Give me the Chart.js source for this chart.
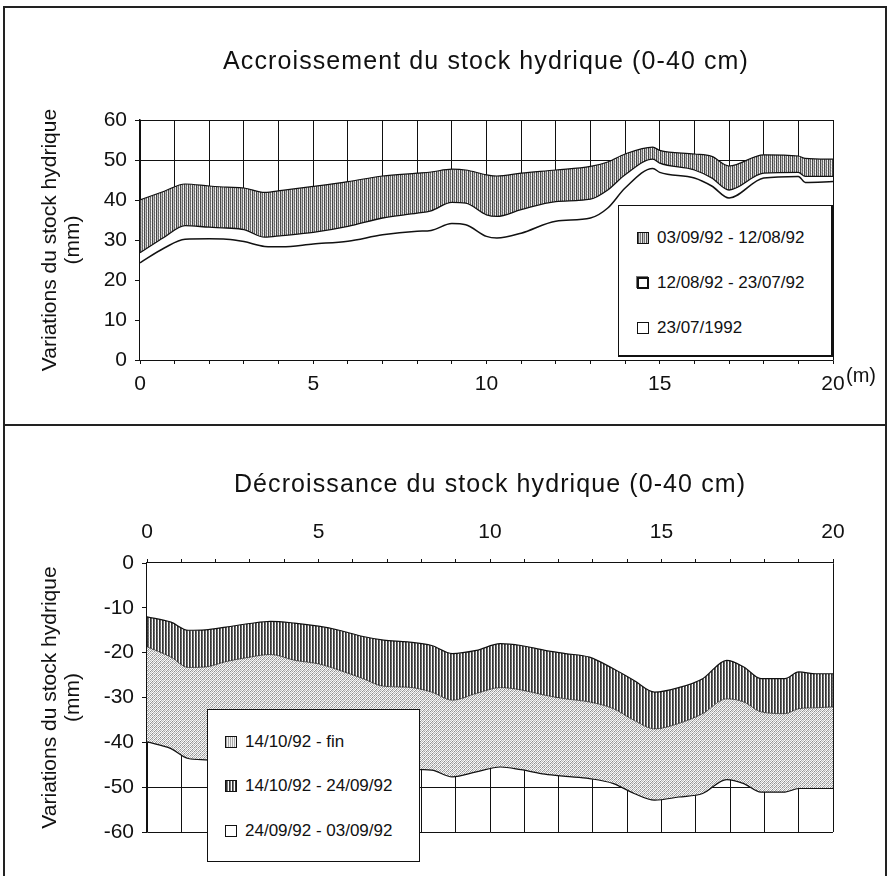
<!DOCTYPE html>
<html>
<head>
<meta charset="utf-8">
<script src="https://cdn.jsdelivr.net/npm/chart.js@4.4.0/dist/chart.umd.min.js"></script>
<style>
  html, body { margin: 0; padding: 0; background: #fff; }
  #page { position: relative; width: 888px; height: 876px; background: #fff; overflow: hidden;
          font-family: "Liberation Sans", Arial, sans-serif; color: #111; }
  .frame { position: absolute; background: #222; }
  .title { position: absolute; font-size: 25px; letter-spacing: 1.1px; white-space: nowrap;
           transform: translate(-50%, -50%); }
  .legend { position: absolute; background: #fff; border: 1px solid #111; box-sizing: border-box; }
  .item { position: absolute; font-size: 17px; white-space: nowrap; line-height: 20px; }
  .sw { display: inline-block; width: 12px; height: 12px; border: 1px solid #111; box-sizing: border-box;
        vertical-align: -1px; margin-right: 8px; background: #fff; }
  .unit { position: absolute; font-size: 20px; }
  canvas { position: absolute; left: 0; }
</style>
</head>
<body>
<div id="page">
  <canvas id="c1" width="888" height="425" style="top:0"></canvas>
  <canvas id="c2" width="888" height="451" style="top:425px"></canvas>

  <div class="frame" style="left:3px;top:6px;width:883px;height:2px"></div>
  <div class="frame" style="left:3px;top:6px;width:1.5px;height:870px"></div>
  <div class="frame" style="left:885px;top:6px;width:1.5px;height:870px"></div>
  <div class="frame" style="left:3px;top:424px;width:883px;height:2px"></div>

  <div class="title" style="left:486px;top:60px">Accroissement du stock hydrique (0-40 cm)</div>
  <div class="title" style="left:490px;top:483px">Décroissance du stock hydrique (0-40 cm)</div>
  <div class="unit" style="left:846px;top:364px">(m)</div>

  <div class="legend" style="left:618px;top:205px;width:215px;height:152px;border-right-width:2px;border-bottom-width:2px">
    <div class="item" style="left:18px;top:22px"><span class="sw" style="background:repeating-linear-gradient(90deg,#505050 0 1px,#c8c8c8 1px 2px,#7a7a7a 2px 3px,#eee 3px 4px)"></span>03/09/92 - 12/08/92</div>
    <div class="item" style="left:18px;top:67px"><span class="sw" style="border-width:2px;box-shadow:-1px -1px 0 #777"></span>12/08/92 - 23/07/92</div>
    <div class="item" style="left:18px;top:112px"><span class="sw"></span>23/07/1992</div>
  </div>

  <div class="legend" style="left:207px;top:709px;width:213px;height:153px">
    <div class="item" style="left:17px;top:22px"><span class="sw" style="background:repeating-linear-gradient(90deg,#aaa 0 1px,#f2f2f2 1px 2px)"></span>14/10/92 - fin</div>
    <div class="item" style="left:17px;top:66px"><span class="sw" style="background:repeating-linear-gradient(90deg,#333 0 1px,#777 1px 2px,#fff 2px 3px)"></span>14/10/92 - 24/09/92</div>
    <div class="item" style="left:17px;top:111px"><span class="sw"></span>24/09/92 - 03/09/92</div>
  </div>
</div>

<script>
// ---------- Top chart: Accroissement (levels, mm) ----------
const distTop = [0,0.7,1.3,2,2.5,3,3.6,4.1,5,6,7,8,8.4,9,9.4,10,10.3,11,12,13,13.5,14,14.8,15,16,16.5,17,18,19,19.2,20];
// 23/07/1992
const level_23_07 = [24.3,28,30.2,30.3,30.2,29.6,28.4,28.3,29,29.7,31.3,32.2,32.4,34.1,33.8,30.9,30.5,31.7,34.7,35.5,38,43,47.9,46.9,45.5,43.5,40.5,45.5,45.9,44.4,44.6];
// + 12/08/92 - 23/07/92
const level_12_08 = [26.8,30.7,33.6,33.2,33,32.6,30.7,31.1,31.9,33.4,35.5,36.7,37.3,39.4,39.2,36.3,35.9,37.6,39.6,40.2,42.5,46.3,50.2,49.2,47.5,45.5,42.5,46.7,46.9,45.9,45.9];
// + 03/09/92 - 12/08/92
const level_03_09 = [40,42.2,44,43.5,43.2,43,41.9,42.4,43.4,44.6,46,46.7,47,47.7,47.5,46.3,46,46.7,47.5,48.4,49.5,51.5,53.2,52.4,51.5,50.9,48.5,51.3,51,50.4,50.2];
const yTicksTop = [0,10,20,30,40,50,60];

// ---------- Bottom chart: Décroissance ----------
const distBot = [0,0.7,1.2,1.7,2.3,3,3.6,4.3,5,5.6,6.3,6.9,7.6,8.3,8.9,9.6,10.3,10.9,11.6,12.2,12.9,13.6,14.2,14.8,15.5,16.2,16.9,17.4,17.9,18.6,19,19.5,20];
// 24/09/92 - 03/09/92
const level_24_09 = [-12,-13.2,-15,-14.9,-14.3,-13.5,-13,-13.4,-14.1,-15,-16.4,-17.2,-17.6,-18.4,-20.2,-19.5,-18,-18.4,-19.5,-20.2,-21,-23.6,-26.2,-28.8,-27.8,-25.8,-21.7,-23.2,-25.8,-25.8,-24.3,-24.7,-24.7];
// + 14/10/92 - 24/09/92
const level_14_10 = [-18.7,-21,-23.3,-23.2,-22,-21,-20.4,-21.7,-22.5,-23.9,-25.8,-27.5,-27.7,-28.8,-30.6,-29.1,-27.8,-28.3,-29.5,-30.3,-31,-32.5,-35.1,-37,-35.8,-33.6,-30.3,-31,-33.2,-33.6,-32.5,-32.3,-32.1];
// + 14/10/92 - fin
const level_fin = [-39.9,-41.4,-43.6,-43.9,-44.1,-44.4,-44.7,-45,-45.3,-45.5,-45.7,-45.9,-46,-46.2,-47.7,-46.6,-45.5,-46.1,-47.1,-47.6,-48.1,-49.2,-51.4,-52.9,-52.2,-51.4,-48.3,-49.2,-51.1,-51.1,-50.3,-50.3,-50.3];
const yTicksBot = [-60,-50,-40,-30,-20,-10,0];
const xTickLabels = [0,5,10,15,20];

function pts(xs, ys) { return xs.map((x, i) => ({x: x, y: ys[i]})); }

const tmp = document.createElement('canvas').getContext('2d');
function pat(cols) {
  const c = document.createElement('canvas');
  c.width = cols[0].length; c.height = cols.length;
  const ctx = c.getContext('2d');
  cols.forEach((row, y) => row.forEach((col, x) => { ctx.fillStyle = col; ctx.fillRect(x, y, 1, 1); }));
  return tmp.createPattern(c, 'repeat');
}
const hatchTop = pat([
  ['#444444','#c4c4c4','#6e6e6e','#e8e8e8'],
  ['#444444','#b4b4b4','#6e6e6e','#f8f8f8'],
  ['#4e4e4e','#c4c4c4','#626262','#e0e0e0']
]);
const stripesDark = pat([
  ['#333','#666','#fff'],
  ['#333','#666','#fff'],
  ['#3a3a3a','#737373','#f0f0f0']
]);
const stipple = pat([
  ['#8a8a8a','#f4f4f4','#b4b4b4','#fff'],
  ['#e6e6e6','#c0c0c0','#ffffff','#9c9c9c'],
  ['#a6a6a6','#ffffff','#8e8e8e','#eeeeee'],
  ['#ffffff','#aeaeae','#f0f0f0','#c4c4c4']
]);

const tickFont = {family: '"Liberation Sans", Arial, sans-serif', size: 21};
const titleFont = {family: '"Liberation Sans", Arial, sans-serif', size: 21, lineHeight: 1.1};

function lineDs(label, data, fill, bg, bw) {
  return {label, data, fill, backgroundColor: bg, borderColor: '#111', borderWidth: bw,
          pointRadius: 0, cubicInterpolationMode: 'monotone', tension: 0.4};
}

function xScale(pos, tickPad) {
  return {
    type: 'linear', position: pos, min: 0, max: 20,
    afterBuildTicks: s => { s.ticks = Array.from({length: 21}, (_, i) => ({value: i})); },
    afterFit: s => { s.height = 50; },
    ticks: { autoSkip: false, maxRotation: 0, padding: tickPad, color: '#111', font: tickFont,
             callback: v => xTickLabels.includes(v) ? String(v) : '' },
    grid: { color: '#111', lineWidth: 1, tickLength: 4, drawOnChartArea: true },
    border: { color: '#111', width: 1.5 }
  };
}
function yScale(min, max, ticks, width) {
  return {
    type: 'linear', min, max,
    afterBuildTicks: s => { s.ticks = ticks.map(v => ({value: v})); },
    afterFit: s => { s.width = width; },
    ticks: { padding: 8, color: '#111', font: tickFont },
    grid: { color: '#111', lineWidth: 1, tickLength: 5 },
    border: { color: '#111', width: 1.5 },
    title: { display: true, text: ['Variations du stock hydrique', '(mm)'], color: '#111',
             font: titleFont, padding: {top: 4, bottom: 0} }
  };
}

const common = {
  responsive: false, animation: false, devicePixelRatio: 1,
  plugins: { legend: { display: false }, tooltip: { enabled: false }, title: { display: false } }
};

new Chart(document.getElementById('c1'), {
  type: 'line',
  data: { datasets: [
    lineDs('23/07/1992', pts(distTop, level_23_07), 'origin', '#ffffff', 1.5),
    lineDs('12/08/92 - 23/07/92', pts(distTop, level_12_08), '-1', '#ffffff', 1.3),
    lineDs('03/09/92 - 12/08/92', pts(distTop, level_03_09), '-1', hatchTop, 1.2)
  ]},
  options: Object.assign({}, common, {
    layout: { padding: { left: 35, right: 55, top: 120, bottom: 15 } },
    scales: { x: xScale('bottom', 8), y: yScale(0, 60, yTicksTop, 105) }
  })
});

new Chart(document.getElementById('c2'), {
  type: 'line',
  data: { datasets: [
    lineDs('24/09/92 - 03/09/92', pts(distBot, level_24_09), 'origin', '#ffffff', 1.2),
    lineDs('14/10/92 - 24/09/92', pts(distBot, level_14_10), '-1', stripesDark, 0.6),
    lineDs('14/10/92 - fin', pts(distBot, level_fin), '-1', stipple, 1.2)
  ]},
  options: Object.assign({}, common, {
    layout: { padding: { left: 35, right: 55, top: 88, bottom: 44 } },
    scales: { x: xScale('top', 14), y: yScale(-60, 0, yTicksBot, 112) }
  })
});
</script>
</body>
</html>
